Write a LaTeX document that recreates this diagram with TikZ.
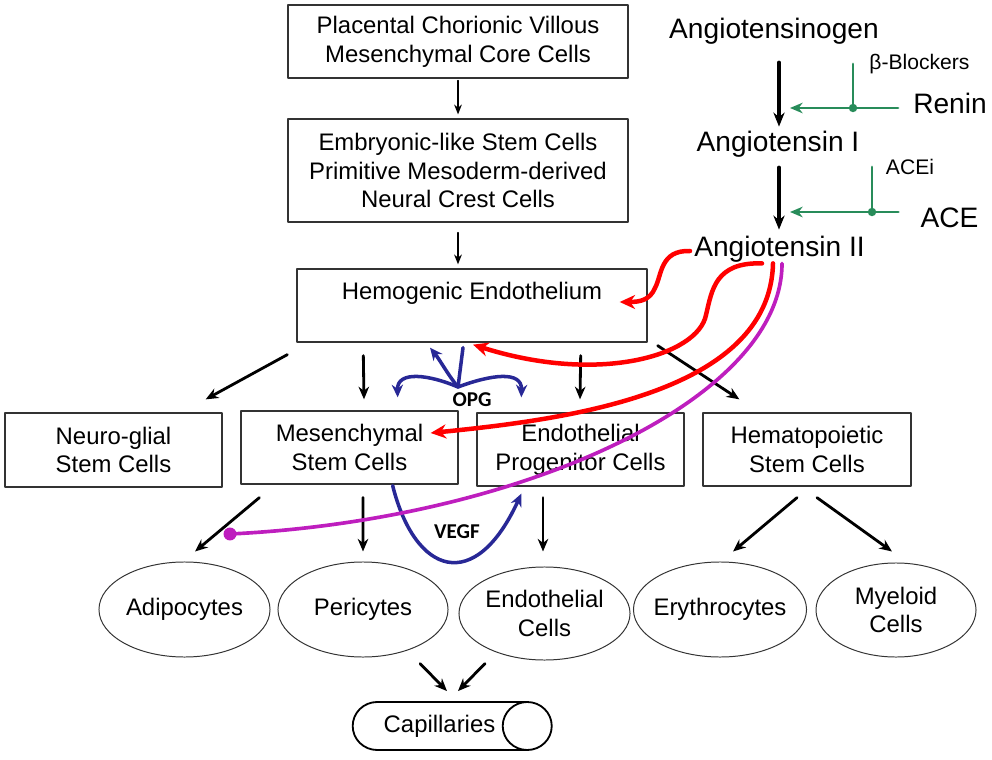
\documentclass[tikz,border=0pt]{standalone}
\usepackage{fontspec}
\setmainfont{Liberation Sans}
\newfontfamily\calib{Carlito}
\usetikzlibrary{arrows.meta,shapes.geometric}

\definecolor{grn}{RGB}{40,140,90}
\definecolor{navy}{RGB}{40,40,150}
\definecolor{mag}{RGB}{190,30,190}

\begin{document}
\begin{tikzpicture}[x=.025cm, y=-.025cm, line join=round, line cap=round,
	font=\fontsize{17}{20.5}\selectfont,
	box/.style={draw=black!80, line width=.9pt, align=center, inner sep=0pt},
	ell/.style={draw=black!80, line width=.7pt, ellipse, align=center, inner xsep=-12pt, inner ysep=0pt},
	tarr/.style={-{Stealth[length=7pt,width=5.5pt]}, line width=1.1pt},
	arr/.style={-{Stealth[length=9pt,width=7.5pt]}, line width=2pt},
	barr/.style={-{Stealth[length=10pt,width=8pt]}, line width=2.5pt},
	rarr/.style={-{Stealth[length=11pt,width=10pt]}, line width=3.2pt, red},
	marr/.style={line width=2.6pt, mag},
	narr/.style={-{Stealth[length=9pt,width=8pt]}, line width=2.5pt, navy},
	garr/.style={line width=2pt, grn},
	lbl/.style={inner sep=0pt, font=\fontsize{20}{24}\selectfont},
	sml/.style={inner sep=0pt, font=\fontsize{15}{17}\selectfont},
	tag/.style={inner sep=0pt, font=\calib\bfseries\fontsize{15}{18}\selectfont}]
	\useasboundingbox (0,0) rectangle (992,760);
	% cell lineage
	\node[box, minimum width=8.5cm, minimum height=1.825cm] (b1) at (458,41.5) {Placental Chorionic Villous\\Mesenchymal Core Cells};
	\node[box, minimum width=8.5cm, minimum height=2.575cm] (b2) at (458,170.5) {Embryonic-like Stem Cells\\Primitive Mesoderm-derived\\Neural Crest Cells};
	\node[box, minimum width=8.75cm, minimum height=1.825cm] (he) at (472,305.5) {Hemogenic Endothelium\\~};
	\node[box, minimum width=5.425cm, minimum height=1.85cm] (ng) at (113.5,450) {Neuro-glial\\Stem Cells};
	\node[box, minimum width=5.425cm, minimum height=1.825cm] (ms) at (349.5,447.5) {Mesenchymal\\Stem Cells};
	\node[box, minimum width=5.175cm, minimum height=1.825cm] (ep) at (580.5,449.5) {Endothelial\\Progenitor Cells};
	\node[box, minimum width=5.2cm, minimum height=1.825cm] (hs) at (807,449.5) {Hematopoietic\\Stem Cells};
	\node[ell, minimum width=4.275cm, minimum height=2.375cm] (adip) at (184.5,609.5) {Adipocytes};
	\node[ell, minimum width=4.25cm, minimum height=2.375cm] (peri) at (363,609.5) {Pericytes};
	\node[ell, minimum width=4.275cm, minimum height=2.325cm] (endc) at (544.5,613.5) {Endothelial\\Cells};
	\node[ell, minimum width=4.325cm, minimum height=2.375cm] (ery) at (720,609.5) {Erythrocytes};
	\node[ell, minimum width=4cm, minimum height=2.35cm] (mye) at (896,610) {Myeloid\\Cells};
	\node[draw, line width=1.3pt, cylinder, shape aspect=2.2, minimum height=4.975cm, minimum width=1.2cm, inner sep=0pt] (cap) at (439.5,726) {Capillaries};
	\draw[tarr, shorten <=1.4pt, shorten >=2.8pt] (b1) -- (b2);
	\draw[tarr] ([shift={(0,10)}]b2.south) -- ([shift={(-14,-4)}]he.north);
	\draw[arr] ([shift={(-9,12)}]he.south west) -- ([shift={(-17,-13)}]ng.north east);
	\draw[arr] ([shift={(67,13)}]he.south west) -- ([shift={(14.5,-11)}]ms.north);
	\draw[arr] ([shift={(-67,13)}]he.south east) -- ([shift={(-.5,-13)}]ep.north);
	\draw[arr] ([shift={(10,3)}]he.south east) -- ([shift={(37,-13)}]hs.north west);
	\draw[arr] ([shift={(19,13)}]ms.south west) -- ([shift={(10.5,-10)}]adip.north);
	\draw[arr] ([shift={(13.5,13)}]ms.south) -- ([shift={(0,-10)}]peri.north);
	\draw[arr] ([shift={(-37.5,11)}]ep.south) -- ([shift={(-1.5,-15)}]endc.north);
	\draw[arr] ([shift={(-10,11)}]hs.south) -- ([shift={(13,-10)}]ery.north);
	\draw[arr] ([shift={(10,11)}]hs.south) -- ([shift={(-4,-11)}]mye.north);
	\draw[arr] ([shift={(57,6)}]peri.south) -- ([shift={(7.5,-10)}]cap.north);
	\draw[arr] ([shift={(-59.5,3)}]endc.south) -- ([shift={(18.5,-10)}]cap.north);
	% renin angiotensin system
	\node[lbl] (ag) at (774,31) {Angiotensinogen};
	\node[lbl] (a1) at (778,144) {Angiotensin I};
	\node[lbl] (a2) at (779.5,249) {Angiotensin II};
	\node[lbl] (rn) at (950,103) {Renin};
	\node[lbl] (ace) at (949.5,218) {ACE};
	\node[sml] (bb) at (919.5,64) {β-Blockers};
	\node[sml] (acei) at (910,167) {ACEi};
	\draw[barr] ([shift={(5,18)}]ag.south) -- ([shift={(1,-4)}]a1.north);
	\draw[barr] ([shift={(1,10)}]a1.south) -- ([shift={(-.5,-6)}]a2.north);
	\coordinate (k1) at (790,108);
	\coordinate (d1) at (853,108);
	\coordinate (k2) at (790,212);
	\coordinate (d2) at (872,212);
	\draw[garr, -{Stealth[length=9pt,width=7.5pt]}] ([shift={(-15,5)}]rn.west) -- (k1);
	\draw[garr] (d1 |- bb.west) -- (d1);
	\fill[grn] (d1) circle (3pt);
	\draw[garr, -{Stealth[length=9pt,width=7.5pt]}] ([shift={(-22,-6)}]ace.west) -- (k2);
	\draw[garr] (d2 |- acei.west) -- (d2);
	\fill[grn] (d2) circle (3pt);
	% OPG and VEGF
	\coordinate (opg) at (458,387);
	\draw[narr, -] ([shift={(-9,5)}]he.south) -- (opg);
	\draw[narr] (opg) .. controls (448,375) and (440,360) .. ([shift={(-42,5)}]he.south);
	\draw[narr] (opg) .. controls (430,375) and (397,370) .. ([shift={(-61,-13)}]ms.north east);
	\draw[narr] (opg) .. controls (490,375) and (522,370) .. ([shift={(45,-15)}]ep.north west);
	\node[tag] (opgl) at (472,400) {OPG};
	\draw[narr] ([shift={(-66,1)}]ms.south east) .. controls (415,575) and (475,595) .. ([shift={(45,7)}]ep.south west);
	\node[tag] (vegf) at (457,532) {VEGF};
	% angiotensin II effects
	\coordinate (dot) at (230,534);
	\draw[marr] ([shift={(2.5,1)}]a2.south) .. controls (782,400) and (520,520) .. (dot);
	\fill[mag] (dot) circle (4.6pt);
	\draw[rarr] ([shift={(-4,2)}]a2.west) .. controls (660,250) and (662,275) .. (655,288) .. controls (650,300) and (640,302) .. ([shift={(-28,-3.5)}]he.east);
	\draw[rarr] ([shift={(-17.5,1)}]a2.south) .. controls (715,262) and (712,290) .. (706,315) .. controls (698,355) and (600,385) .. ([shift={(1,2)}]he.south);
	\draw[rarr] ([shift={(-6.5,1)}]a2.south) .. controls (770,395) and (560,420) .. ([shift={(-28,-14.5)}]ms.east);
\end{tikzpicture}
\end{document}
